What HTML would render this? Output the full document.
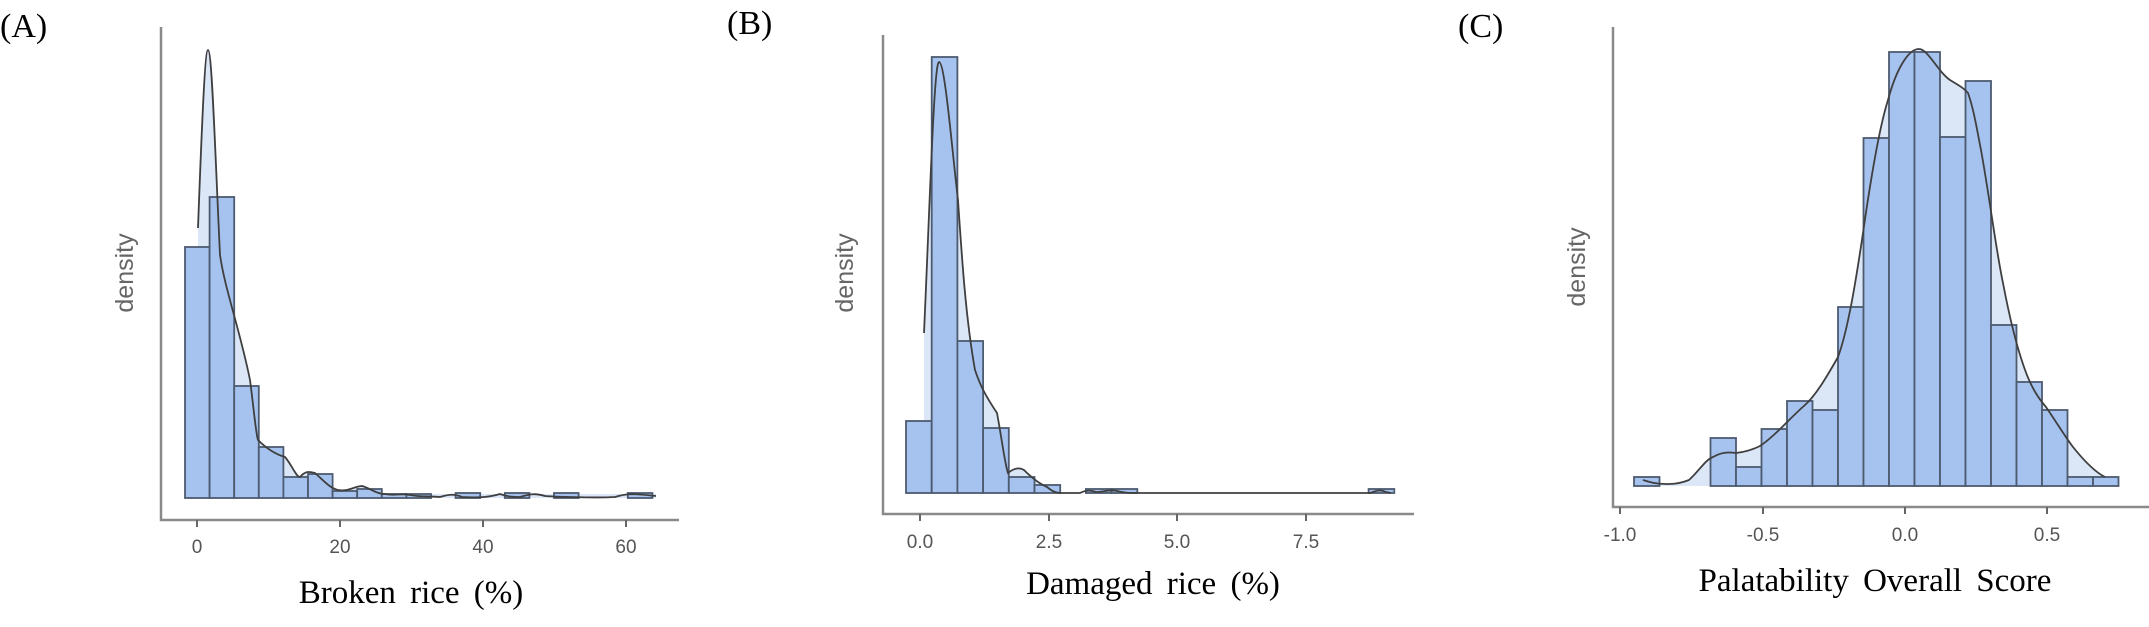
<!DOCTYPE html>
<html><head><meta charset="utf-8"><style>
html,body{margin:0;padding:0;background:#fff;}
svg{display:block;}
.ax{stroke:#8a8a8a;stroke-width:2.5;fill:none;}
.tk{stroke:#666;stroke-width:2;}
.tl{font-family:"Liberation Sans",sans-serif;font-size:19px;fill:#555;text-anchor:middle;}
.yl{font-family:"Liberation Sans",sans-serif;font-size:25px;fill:#666;text-anchor:middle;}
.xl{font-family:"Liberation Serif",serif;font-size:33px;fill:#000;text-anchor:middle;word-spacing:6px;}
.pl{font-family:"Liberation Serif",serif;font-size:34px;fill:#000;}
.bar{fill:#a6c3ef;stroke:#4d5b70;stroke-width:1.8;}
.den{fill:#dbe6f7;stroke:none;}
.cv{fill:none;stroke:#3f3f3f;stroke-width:1.8;}
</style></head><body>
<svg width="2149" height="627" viewBox="0 0 2149 627" xmlns="http://www.w3.org/2000/svg">
<!-- Panel A -->
<text class="pl" x="0" y="37">(A)</text>
<path class="den" d="M198,498 L198,228 C202,120 205,50 208,50 C212,50 215,150 220,255 C225,290 240,330 250,380 C254,410 256,435 258,440 C268,450 278,455 285,457 C292,465 296,477 300,477 C306,470 310,472 315,473 C325,482 330,488 338,490 C348,492 355,486 362,486 C370,488 376,494 385,494 L656,494 L656,498 Z"/>
<g id="barsA"></g>
<path class="cv" d="M198,228 C202,120 205,50 208,50 C212,50 215,150 220,255 C225,290 240,330 250,380 C254,410 256,435 258,440 C268,450 278,455 285,457 C292,465 296,477 300,477 C306,470 310,472 315,473 C325,482 330,488 338,490 C348,492 355,486 362,486 C370,488 376,494 385,494 C395,496 400,493 410,495 C420,497 428,496 440,497 C450,494 455,494 462,497 C480,498 490,497 500,494 C506,496 510,497 520,497 C530,494 535,493 545,496 C560,497 600,498 615,497 C625,494 630,493 656,496"/>
<path class="ax" d="M161,27 L161,520 L679,520"/>
<path class="tk" d="M197,520v7M340,520v7M483,520v7M626,520v7"/>
<text class="tl" x="197" y="553">0</text><text class="tl" x="340" y="553">20</text><text class="tl" x="483" y="553">40</text><text class="tl" x="626" y="553">60</text>
<text class="yl" transform="translate(133,273) rotate(-90)">density</text>
<text class="xl" x="411" y="603">Broken rice (%)</text>

<!-- Panel B -->
<text class="pl" x="727" y="34">(B)</text>
<path class="den" d="M924,493 L924,333 C930,200 934,62 939,62 C945,62 952,150 958,200 C962,260 966,320 975,370 C980,385 985,395 997,413 C1002,440 1005,465 1008,473 C1014,468 1019,467 1024,470 C1032,478 1040,484 1047,487 C1052,491 1055,493 1060,493 Z"/>
<g id="barsB"></g>
<path class="cv" d="M924,333 C930,200 934,62 939,62 C945,62 952,150 958,200 C962,260 966,320 975,370 C980,385 985,395 997,413 C1002,440 1005,465 1008,473 C1014,468 1019,467 1024,470 C1032,478 1040,484 1047,487 C1052,491 1055,493 1062,493 L1080,493 C1086,490 1090,490 1096,492 C1104,492 1110,489 1117,491 C1124,493 1130,493 1140,493 L1370,493 C1376,491 1380,489 1386,492 L1391,493"/>
<path class="ax" d="M883,35 L883,514 L1414,514"/>
<path class="tk" d="M920,514v7M1049,514v7M1177,514v7M1306,514v7"/>
<text class="tl" x="920" y="548">0.0</text><text class="tl" x="1049" y="548">2.5</text><text class="tl" x="1177" y="548">5.0</text><text class="tl" x="1306" y="548">7.5</text>
<text class="yl" transform="translate(853,273) rotate(-90)">density</text>
<text class="xl" x="1153" y="594">Damaged rice (%)</text>

<!-- Panel C -->
<text class="pl" x="1458" y="37">(C)</text>
<path class="den" d="M1643,486 L1643,480 C1655,484 1662,484 1669,484 C1678,484 1684,482 1689,480 C1700,470 1705,460 1713,457 C1722,452 1728,452 1736,453 C1745,452 1752,450 1760,446 C1775,436 1790,418 1805,405 C1815,396 1825,380 1838,357 C1848,330 1856,280 1863,233 C1872,170 1880,125 1888,100 C1896,70 1908,49 1919,49 C1928,49 1938,72 1950,80 C1958,85 1964,88 1968,93 C1974,110 1977,130 1981,150 C1990,200 1996,250 2003,283 C2010,320 2018,350 2024,367 C2030,385 2038,398 2046,407 C2055,420 2064,435 2073,447 C2085,462 2095,472 2105,477 L2105,486 Z"/>
<g id="barsC"></g>
<path class="cv" d="M1643,480 C1655,484 1662,484 1669,484 C1678,484 1684,482 1689,480 C1700,470 1705,460 1713,457 C1722,452 1728,452 1736,453 C1745,452 1752,450 1760,446 C1775,436 1790,418 1805,405 C1815,396 1825,380 1838,357 C1848,330 1856,280 1863,233 C1872,170 1880,125 1888,100 C1896,70 1908,49 1919,49 C1928,49 1938,72 1950,80 C1958,85 1964,88 1968,93 C1974,110 1977,130 1981,150 C1990,200 1996,250 2003,283 C2010,320 2018,350 2024,367 C2030,385 2038,398 2046,407 C2055,420 2064,435 2073,447 C2085,462 2095,472 2105,477"/>
<path class="ax" d="M1613,27 L1613,507 L2149,507"/>
<path class="tk" d="M1620,507v7M1763,507v7M1905,507v7M2047,507v7"/>
<text class="tl" x="1620" y="541">-1.0</text><text class="tl" x="1763" y="541">-0.5</text><text class="tl" x="1905" y="541">0.0</text><text class="tl" x="2047" y="541">0.5</text>
<text class="yl" transform="translate(1585,267) rotate(-90)">density</text>
<text class="xl" x="1875" y="591">Palatability Overall Score</text>
</svg>
<script>
function bars(id,x0,w,base,tops){var g=document.getElementById(id),s='';
tops.forEach(function(t,i){if(t==null)return;var x=x0+w*i;
s+='<rect class="bar" x="'+x.toFixed(1)+'" y="'+t+'" width="'+w.toFixed(1)+'" height="'+(base-t)+'"/>';});
g.outerHTML='<g>'+s+'</g>';}
bars('barsA',185,24.6,498,[247,197,386,447,477,474,491,489,494,494,null,493,null,493,null,493,null,null,493]);
bars('barsB',906,25.7,493,[421,57,341,428,477,485,null,489,489,null,null,null,null,null,null,null,null,null,489]);
bars('barsC',1634,25.5,486,[477,null,null,438,467,429,401,410,307,138,52,52,137,81,325,382,410,477,477]);
</script>
</body></html>
